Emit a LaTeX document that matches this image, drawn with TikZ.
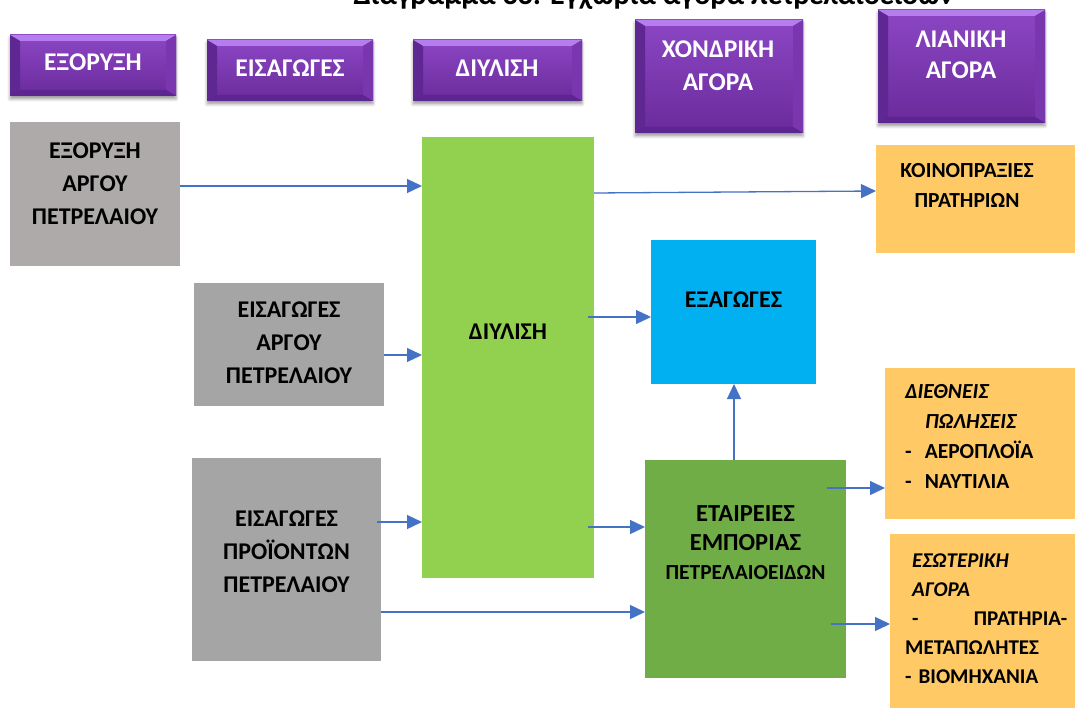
\documentclass[tikz,border=0pt]{standalone}
\usepackage{fontspec}
\setmainfont{Carlito}
\usetikzlibrary{arrows.meta,shadows.blur,calc}
\definecolor{tabhi}{HTML}{8C46C4}
\definecolor{tablo}{HTML}{6A2B9B}
\definecolor{tabtop}{HTML}{B67DEE}
\definecolor{tableft}{HTML}{5E2792}
\definecolor{tabright}{HTML}{7A36AE}
\definecolor{tabbot}{HTML}{5C2590}
\definecolor{rockgray}{HTML}{AEAAAA}
\definecolor{impgray}{HTML}{A5A5A5}
\definecolor{refgreen}{HTML}{92D050}
\definecolor{expblue}{HTML}{00B0F0}
\definecolor{tradegreen}{HTML}{70AD47}
\definecolor{retailorange}{HTML}{FFCA66}
\definecolor{arrowblue}{HTML}{4472C4}
\begin{document}
\begin{tikzpicture}[x=1pt, y=-1pt, every node/.style={font=\bfseries\fontsize{24}{33}\selectfont}]
  \tikzstyle{bx}=[inner sep=0pt, outer sep=0pt]
  \tikzstyle{tab}=[bx, top color=tabhi, bottom color=tablo,
    blur shadow={shadow xshift=0pt, shadow yshift=-3pt, shadow blur radius=3pt, shadow opacity=40},
    path picture={
      \coordinate (pnw) at (path picture bounding box.north west);
      \coordinate (pne) at (path picture bounding box.north east);
      \coordinate (psw) at (path picture bounding box.south west);
      \coordinate (pse) at (path picture bounding box.south east);
      \fill[tabtop] (pnw) -- (pne) -- ([shift={(-10pt,-6pt)}]pne) -- ([shift={(10pt,-6pt)}]pnw) -- cycle;
      \fill[tableft] (pnw) -- ([shift={(10pt,-6pt)}]pnw) -- ([shift={(10pt,6pt)}]psw) -- (psw) -- cycle;
      \fill[tabright] (pne) -- ([shift={(-10pt,-6pt)}]pne) -- ([shift={(-10pt,6pt)}]pse) -- (pse) -- cycle;
      \fill[tabbot] (psw) -- ([shift={(10pt,6pt)}]psw) -- ([shift={(-10pt,6pt)}]pse) -- (pse) -- cycle;
    }]
  \tikzstyle{txt}=[inner sep=0pt, align=center]
  \tikzstyle{tabtxt}=[txt, white, font=\bfseries\fontsize{25.5}{33}\selectfont]
  \tikzstyle{small}=[font=\bfseries\fontsize{21.5}{30}\selectfont]
  \tikzstyle{ar}=[-{Triangle[length=15pt,width=14pt]}, line width=1.3pt, arrowblue]
  \clip (0,0) rectangle (1075,708);
  \node[anchor=base west, font=\bfseries\fontsize{30}{32}\selectfont] (title) at (350,5) {Διάγραμμα 33: Εγχώρια αγορά πετρελαιοειδών};

  \node[tab, minimum width=166pt, minimum height=61pt] (tabmine) at (93,65.5) {};
  \node[tab, minimum width=166pt, minimum height=61pt] (tabimp) at (290,70.5) {};
  \node[tab, minimum width=169pt, minimum height=61pt] (tabref) at (497.5,70.5) {};
  \node[tab, minimum width=168pt, minimum height=113pt] (tabwhole) at (719,76.5) {};
  \node[tab, minimum width=167pt, minimum height=113pt] (tabretail) at (961.5,66.5) {};
  \node[tabtxt] (tabmine-t) at (93,62) {ΕΞΟΡΥΞΗ};
  \node[tabtxt] (tabimp-t) at (290,68) {ΕΙΣΑΓΩΓΕΣ};
  \node[tabtxt] (tabref-t) at (497,68) {ΔΙΥΛΙΣΗ};
  \node[tabtxt] (tabwhole-t) at (718,66) {ΧΟΝΔΡΙΚΗ\\ΑΓΟΡΑ};
  \node[tabtxt, font=\bfseries\fontsize{25.5}{31}\selectfont] (tabretail-t) at (961,55) {ΛΙΑΝΙΚΗ\\ΑΓΟΡΑ};

  \node[bx, fill=rockgray, minimum width=170pt, minimum height=144pt] (mine) at (95,194) {};
  \node[bx, fill=impgray, minimum width=190pt, minimum height=123pt] (crudeimp) at (289,344.5) {};
  \node[bx, fill=impgray, minimum width=189pt, minimum height=203pt] (prodimp) at (286.5,559.5) {};
  \node[bx, fill=refgreen, minimum width=172pt, minimum height=441pt] (refine) at (508,357.5) {};
  \node[bx, fill=expblue, minimum width=165pt, minimum height=144pt] (export) at (733.5,312) {};
  \node[bx, fill=tradegreen, minimum width=201pt, minimum height=218pt] (trade) at (745.5,569) {};
  \node[bx, fill=retailorange, minimum width=209pt, minimum height=108pt] (pool) at (980.5,199) {};
  \node[bx, fill=retailorange, minimum width=200pt, minimum height=151pt] (intl) at (985,443.5) {};
  \node[bx, fill=retailorange, minimum width=195pt, minimum height=184pt] (domestic) at (987.5,626) {};

  \node[txt] (mine-t) at (95,184) {ΕΞΟΡΥΞΗ\\ΑΡΓΟΥ\\ΠΕΤΡΕΛΑΙΟΥ};
  \node[txt] (crudeimp-t) at (289,343) {ΕΙΣΑΓΩΓΕΣ\\ΑΡΓΟΥ\\ΠΕΤΡΕΛΑΙΟΥ};
  \node[txt] (prodimp-t) at (286.5,552) {ΕΙΣΑΓΩΓΕΣ\\ΠΡΟΪΟΝΤΩΝ\\ΠΕΤΡΕΛΑΙΟΥ};
  \node[txt] (refine-t) at (508,331.5) {ΔΙΥΛΙΣΗ};
  \node[txt] (export-t) at (733.5,299.5) {ΕΞΑΓΩΓΕΣ};
  \node[txt, font=\bfseries\fontsize{24.5}{29}\selectfont] (trade-t) at (745.5,543) {ΕΤΑΙΡΕΙΕΣ\\ΕΜΠΟΡΙΑΣ\\{\fontsize{21.5}{28}\selectfont ΠΕΤΡΕΛΑΙΟΕΙΔΩΝ}};
  \node[txt, small] (pool-t) at (967,185) {ΚΟΙΝΟΠΡΑΞΙΕΣ\\ΠΡΑΤΗΡΙΩΝ};
  \node[txt, small, anchor=west, align=left] (intl-t) at (905,436.5) {\textit{ΔΙΕΘΝΕΙΣ}\\\hspace*{20pt}\textit{ΠΩΛΗΣΕΙΣ}\\-\hspace*{13pt}ΑΕΡΟΠΛΟΪΑ\\-\hspace*{13pt}ΝΑΥΤΙΛΙΑ};
  \node[txt, font=\bfseries\fontsize{21}{29}\selectfont, anchor=west, align=left, text width=162pt] (domestic-t) at (905,619) {\hspace*{7pt}\textit{ΕΣΩΤΕΡΙΚΗ}\\\hspace*{7pt}\textit{ΑΓΟΡΑ}\\\hspace*{7pt}-\hfill ΠΡΑΤΗΡΙΑ-\\ΜΕΤΑΠΩΛΗΤΕΣ\\- ΒΙΟΜΗΧΑΝΙΑ};

  \draw[ar] (mine.east |- 0,186) -- (refine.west |- 0,186);
  \draw[ar] (refine.east |- 0,193) -- (pool.west |- 0,191);
  \draw[ar] (crudeimp.east |- 0,355) -- (refine.west |- 0,355);
  \draw[ar] ($(refine.east |- 0,317)+(-6,0)$) -- (export.west |- 0,317);
  \draw[ar] ($(prodimp.east |- 0,522)+(-4,0)$) -- (refine.west |- 0,522);
  \draw[ar] ($(refine.east |- 0,527)+(-6,0)$) -- (trade.west |- 0,527);
  \draw[ar] (prodimp.east |- 0,612) -- (trade.west |- 0,612);
  \draw[ar] (trade.north -| 734,0) -- (export.south -| 734,0);
  \draw[ar] ($(trade.east |- 0,488)+(-19,0)$) -- (intl.west |- 0,488);
  \draw[ar] ($(trade.east |- 0,624)+(-15,0)$) -- (domestic.west |- 0,624);
\end{tikzpicture}
\end{document}
